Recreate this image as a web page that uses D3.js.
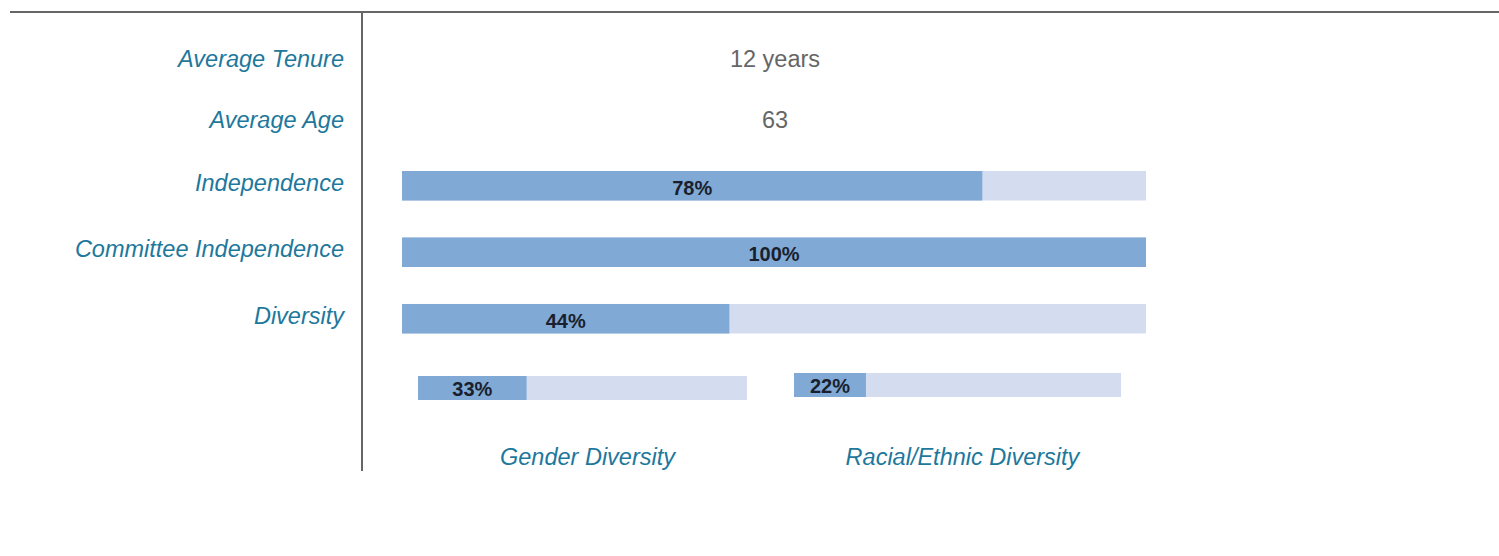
<!DOCTYPE html>
<html>
<head>
<meta charset="utf-8">
<script src="https://cdn.jsdelivr.net/npm/d3@7"></script>
<style>
  html, body { margin: 0; padding: 0; background: #fff; }
  svg { display: block; font-family: "Liberation Sans", Arial, sans-serif; }
  .label { fill: #1e789c; font-style: italic; font-size: 23.5px; }
  .value { fill: #666; font-size: 23.5px; }
  .pct { fill: #1a1f2e; font-weight: bold; font-size: 20px; }
</style>
</head>
<body>
<svg id="chart" width="1499" height="556"></svg>
<script>
  // Text-only rows
  const statLabels = ["Average Tenure", "Average Age"];
  const statValues = ["12 years", "63"];

  // Main percentage bars
  const barLabels = ["Independence", "Committee Independence", "Diversity"];
  const barValues = [0.78, 1.0, 0.44];

  // Diversity breakdown
  const subLabels = ["Gender Diversity", "Racial/Ethnic Diversity"];
  const subValues = [0.33, 0.22];

  const svg = d3.select("#chart");
  const fillColor = "#80a9d5";
  const trackColor = "#d3ddef";
  const fmt = d3.format(".0%");

  // frame lines
  svg.append("line")
    .attr("x1", 10).attr("x2", 1499).attr("y1", 12).attr("y2", 12)
    .attr("stroke", "#666").attr("stroke-width", 2);
  svg.append("line")
    .attr("x1", 362).attr("x2", 362).attr("y1", 12).attr("y2", 471)
    .attr("stroke", "#666").attr("stroke-width", 2);

  const labelX = 344;

  // stat rows
  const yStat = d3.scalePoint().domain(statLabels).range([59, 120]);
  svg.selectAll(".stat-label")
    .data(statLabels)
    .enter()
    .append("text")
    .attr("class", "label")
    .attr("x", labelX)
    .attr("y", d => yStat(d))
    .attr("dy", "0.35em")
    .attr("text-anchor", "end")
    .text(d => d);
  svg.selectAll(".stat-value")
    .data(statValues)
    .enter()
    .append("text")
    .attr("class", "value")
    .attr("x", 775)
    .attr("y", (d, i) => yStat(statLabels[i]))
    .attr("dy", "0.35em")
    .attr("text-anchor", "middle")
    .text(d => d);

  // main bars
  const x = d3.scaleLinear().domain([0, 1]).range([402, 1146]);
  const yBar = d3.scaleBand()
    .domain(barLabels)
    .range([171, 333.5])
    .paddingInner(0.556)
    .paddingOuter(0);

  const rows = svg.selectAll(".bar-row")
    .data(barLabels.map((d, i) => ({ label: d, value: barValues[i] })))
    .enter()
    .append("g")
    .attr("class", "bar-row");

  rows.append("text")
    .attr("class", "label")
    .attr("x", labelX)
    .attr("y", d => yBar(d.label) + yBar.bandwidth() / 2 - 3)
    .attr("dy", "0.35em")
    .attr("text-anchor", "end")
    .text(d => d.label);
  rows.append("rect")
    .attr("x", x(0))
    .attr("y", d => yBar(d.label))
    .attr("width", x(1) - x(0))
    .attr("height", yBar.bandwidth())
    .attr("fill", trackColor);
  rows.append("rect")
    .attr("x", x(0))
    .attr("y", d => yBar(d.label))
    .attr("width", d => x(d.value) - x(0))
    .attr("height", yBar.bandwidth())
    .attr("fill", fillColor);
  rows.append("text")
    .attr("class", "pct")
    .attr("x", d => (x(0) + x(d.value)) / 2)
    .attr("y", d => yBar(d.label) + yBar.bandwidth() / 2 + 2)
    .attr("dy", "0.35em")
    .attr("text-anchor", "middle")
    .text(d => fmt(d.value));

  // sub bars
  const subRanges = [[418, 747], [794, 1121]];
  const subTops = [376, 373];
  const subHeight = 24;

  subLabels.forEach((name, i) => {
    const xs = d3.scaleLinear().domain([0, 1]).range(subRanges[i]);
    const g = svg.append("g");
    g.append("rect")
      .attr("x", xs(0)).attr("y", subTops[i])
      .attr("width", xs(1) - xs(0)).attr("height", subHeight)
      .attr("fill", trackColor);
    g.append("rect")
      .attr("x", xs(0)).attr("y", subTops[i])
      .attr("width", xs(subValues[i]) - xs(0)).attr("height", subHeight)
      .attr("fill", fillColor);
    g.append("text")
      .attr("class", "pct")
      .attr("x", (xs(0) + xs(subValues[i])) / 2)
      .attr("y", subTops[i] + subHeight / 2 + 1)
      .attr("dy", "0.35em")
      .attr("text-anchor", "middle")
      .text(fmt(subValues[i]));
    g.append("text")
      .attr("class", "label")
      .attr("x", (xs(0) + xs(1)) / 2 + 5)
      .attr("y", 457)
      .attr("dy", "0.35em")
      .attr("text-anchor", "middle")
      .text(name);
  });
</script>
</body>
</html>
